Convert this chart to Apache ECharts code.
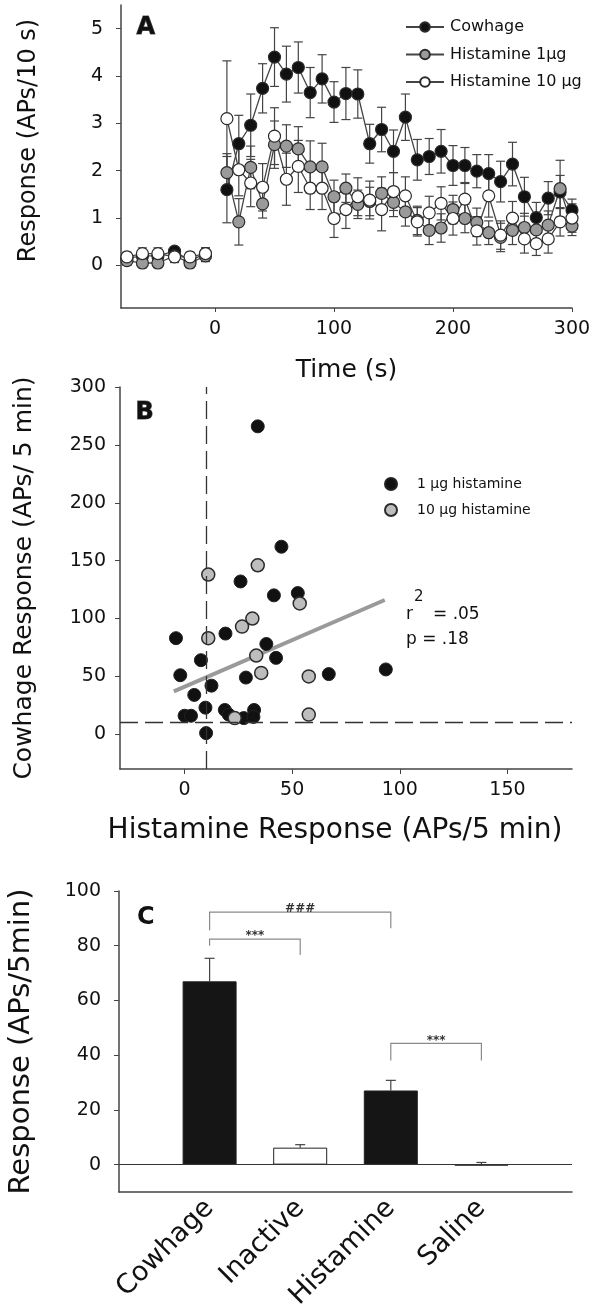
<!DOCTYPE html>
<html>
<head>
<meta charset="utf-8">
<script src="https://cdn.jsdelivr.net/npm/echarts@6/dist/echarts.min.js"></script>
<style>
  html, body { margin: 0; padding: 0; background: #fff; }
  #chart { width: 592px; height: 1311px; }
</style>
</head>
<body>
<div id="chart"></div>
<script>
// ---- panel A : time course (APs / 10 s) ----
// baseline bins sit left of the axis break, so their x is the plotted position
const preTimes = [-74, -61, -48, -34, -21, -8];
const postTimes = [10, 20, 30, 40, 50, 60, 70, 80, 90, 100, 110, 120, 130, 140, 150,
  160, 170, 180, 190, 200, 210, 220, 230, 240, 250, 260, 270, 280, 290, 300];

const cowhagePre = [0.15, 0.2, 0.2, 0.3, 0.1, 0.25];
const cowhagePreErr = [0.1, 0.1, 0.1, 0.08, 0.1, 0.12];
const cowhagePost = [1.60, 2.57, 2.96, 3.74, 4.40, 4.04, 4.18, 3.65, 3.94, 3.45, 3.63, 3.62, 2.57, 2.87, 2.41,
  3.13, 2.23, 2.30, 2.41, 2.11, 2.11, 1.99, 1.94, 1.77, 2.14, 1.45, 1.01, 1.42, 1.55, 1.17];
const cowhageErr = [0.7, 0.6, 0.66, 0.52, 0.62, 0.59, 0.54, 0.53, 0.51, 0.43, 0.55, 0.51, 0.41, 0.47, 0.45,
  0.49, 0.43, 0.38, 0.46, 0.42, 0.38, 0.35, 0.4, 0.43, 0.46, 0.41, 0.32, 0.35, 0.35, 0.23];

const hist1Pre = [0.1, 0.05, 0.05, 0.2, 0.05, 0.2];
const hist1PreErr = [0.1, 0.1, 0.1, 0.1, 0.1, 0.12];
const hist1Post = [1.96, 0.92, 2.07, 1.30, 2.55, 2.52, 2.46, 2.08, 2.08, 1.45, 1.63, 1.29, 1.35, 1.52, 1.33,
  1.13, 0.95, 0.74, 0.79, 1.18, 0.99, 0.91, 0.69, 0.59, 0.74, 0.80, 0.75, 0.85, 1.62, 0.83];
const hist1Err = [0.4, 0.49, 0.45, 0.3, 0.5, 0.45, 0.47, 0.55, 0.5, 0.35, 0.3, 0.3, 0.3, 0.35, 0.3,
  0.3, 0.3, 0.3, 0.3, 0.3, 0.3, 0.3, 0.25, 0.3, 0.3, 0.3, 0.25, 0.3, 0.6, 0.2];

const hist10Pre = [0.18, 0.25, 0.25, 0.18, 0.18, 0.25];
const hist10PreErr = [0.1, 0.12, 0.12, 0.12, 0.1, 0.12];
const hist10Post = [3.10, 2.02, 1.74, 1.65, 2.73, 1.82, 2.09, 1.63, 1.63, 0.99, 1.18, 1.45, 1.38, 1.18, 1.56,
  1.47, 0.92, 1.11, 1.31, 0.99, 1.40, 0.73, 1.47, 0.64, 1.00, 0.56, 0.46, 0.56, 0.92, 1.00];
const hist10Err = [1.22, 0.55, 0.5, 0.5, 0.6, 0.55, 0.55, 0.45, 0.45, 0.4, 0.4, 0.4, 0.4, 0.45, 0.4,
  0.4, 0.3, 0.35, 0.35, 0.35, 0.35, 0.3, 0.45, 0.3, 0.35, 0.3, 0.25, 0.3, 0.3, 0.3];

const ticksA_x = [0, 100, 200, 300];
const ticksA_y = [0, 1, 2, 3, 4, 5];

// ---- panel B : cowhage vs histamine response ----
const oneUgHist = [[34, 266], [45, 162], [26, 132], [41.5, 120], [52.6, 122], [-4, 83], [19, 87], [38, 78],
  [42.5, 66], [7.6, 64], [-2, 51], [28.5, 49], [67, 52], [12.5, 42], [4.5, 34], [9.7, 23], [0, 16],
  [3, 16], [18.7, 21], [20.5, 17], [27.5, 14], [32.3, 21], [32, 15], [10, 1], [93.5, 56]];
const tenUgHist = [[11, 138], [34, 146], [53.5, 113], [31.5, 100], [26.7, 93], [11, 83], [33.3, 68],
  [35.6, 53], [57.7, 50], [57.7, 17], [23.3, 14]];
const regLine = [[-5, 37], [93, 116]];
const cutoff = 10;
const ticksB_x = [0, 50, 100, 150];
const ticksB_y = [0, 50, 100, 150, 200, 250, 300];

// ---- panel C : mean responses ----
const catsC = ['', 'Cowhage', 'Inactive', 'Histamine', 'Saline', ''];
const barValues = ['-', 67, 6.2, 27.1, -0.3, '-'];
const barErr = [0, 8.4, 1.1, 3.7, 1.1, 0];
const barFill = ['#fff', '#151515', '#fff', '#151515', '#fff', '#fff'];
const ticksC_y = [0, 20, 40, 60, 80, 100];
// [from, to, top, leftLegEnd, rightLegEnd]
const brackets = [[1, 3, 92.3, 85.7, 86.4], [1, 2, 82.4, 80, 76.6], [3, 4, 44.3, 38.1, 38.1]];
const bracketText = ['###', '***', '***'];

const FONT = 'DejaVu Sans';
const INK = '#111';
const AXIS = '#444';

const pairs = (xs, ys, es) => xs.map((x, i) => es ? [x, ys[i], es[i]] : [x, ys[i]]);

function errBar(capHalf, both) {
  return function (params, api) {
    const x = api.value(0), y = api.value(1), e = api.value(2);
    if (isNaN(y)) return;
    const top = api.coord([x, y + e]);
    const bot = api.coord([x, both ? y - e : y]);
    const st = { stroke: '#444', lineWidth: 1.2 };
    const kids = [
      { type: 'line', shape: { x1: top[0], y1: top[1], x2: bot[0], y2: bot[1] }, style: st },
      { type: 'line', shape: { x1: top[0] - capHalf, y1: top[1], x2: top[0] + capHalf, y2: top[1] }, style: st }
    ];
    if (both) kids.push({ type: 'line', shape: { x1: bot[0] - capHalf, y1: bot[1], x2: bot[0] + capHalf, y2: bot[1] }, style: st });
    return { type: 'group', children: kids };
  };
}

function axisStyle(extra) {
  return Object.assign({
    axisLine: { show: true, onZero: false, lineStyle: { color: AXIS, width: 1.5 } },
    axisTick: { show: true, length: 5, lineStyle: { color: AXIS } },
    splitLine: { show: false },
    nameLocation: 'middle',
    nameTextStyle: { fontFamily: FONT, fontSize: 25, color: INK }
  }, extra);
}

function tickLabels(values, margin) {
  return { customValues: values, fontFamily: FONT, fontSize: 19, color: INK, margin: margin };
}

const chart = echarts.init(document.getElementById('chart'));

const lineSeries = (name, xs, ys, fill) => ({
  type: 'line', name: name, xAxisIndex: 0, yAxisIndex: 0,
  data: pairs(xs, ys), symbol: 'circle', symbolSize: 12, z: 3,
  lineStyle: { color: '#444', width: 1.3 },
  itemStyle: { color: fill, borderColor: '#2a2a2a', borderWidth: 1.2 }
});

const errSeries = (xs, ys, es) => ({
  type: 'custom', xAxisIndex: 0, yAxisIndex: 0, z: 2, silent: true,
  renderItem: errBar(4.5, true), encode: { x: 0, y: 1 }, data: pairs(xs, ys, es)
});

chart.setOption({
  animation: false,
  backgroundColor: '#fff',
  grid: [
    { left: 121, top: 5, right: 20, height: 303, outerBoundsMode: 'none' },
    { left: 120, top: 387, right: 20, height: 382, outerBoundsMode: 'none' },
    { left: 119, top: 891, right: 20, height: 301, outerBoundsMode: 'none' }
  ],
  legend: [
    {
      data: ['Cowhage', 'Histamine 1μg', 'Histamine 10 μg'],
      orient: 'vertical', left: 400, top: 14, itemWidth: 38, itemHeight: 12, itemGap: 11.5,
      textStyle: { fontFamily: FONT, fontSize: 16, color: INK, padding: [0, 0, 0, 1] }
    },
    {
      data: ['1 μg histamine', '10 μg histamine'],
      orient: 'vertical', left: 379, top: 472, itemWidth: 12, itemHeight: 12, itemGap: 12, icon: 'circle',
      textStyle: { fontFamily: FONT, fontSize: 14, color: INK, padding: [0, 0, 0, 15] }
    }
  ],
  xAxis: [
    axisStyle({
      gridIndex: 0, type: 'value', min: -79, max: 300, name: 'Time (s)', nameGap: 50,
      axisTick: { show: true, length: 4, customValues: ticksA_x, lineStyle: { color: AXIS } },
      axisLabel: tickLabels(ticksA_x, 12)
    }),
    axisStyle({
      gridIndex: 1, type: 'value', min: -30, max: 180, name: 'Histamine Response (APs/5 min)', nameGap: 48,
      nameTextStyle: { fontFamily: FONT, fontSize: 28, color: INK, padding: [0, 22, 0, 0] },
      axisTick: { show: true, length: 5, customValues: ticksB_x, lineStyle: { color: AXIS } },
      axisLabel: tickLabels(ticksB_x, 12)
    }),
    axisStyle({
      gridIndex: 2, type: 'category', data: catsC, boundaryGap: false,
      axisTick: { show: false },
      axisLabel: { interval: 0, rotate: 45, fontFamily: FONT, fontSize: 27, color: INK, margin: 12 }
    })
  ],
  yAxis: [
    axisStyle({
      gridIndex: 0, type: 'value', min: -0.9, max: 5.5, name: 'Response (APs/10 s)', nameGap: 80,
      nameTextStyle: { fontFamily: FONT, fontSize: 24, color: INK, padding: [0, 0, 0, 32] },
      axisTick: { show: true, length: 5, customValues: ticksA_y, lineStyle: { color: AXIS } },
      axisLabel: tickLabels(ticksA_y, 18)
    }),
    axisStyle({
      gridIndex: 1, type: 'value', min: -30, max: 300, name: 'Cowhage Response (APs/ 5 min)', nameGap: 83,
      axisTick: { show: true, length: 5, customValues: ticksB_y, lineStyle: { color: AXIS } },
      axisLabel: tickLabels(ticksB_y, 14)
    }),
    axisStyle({
      gridIndex: 2, type: 'value', min: -10, max: 100, name: 'Response (APs/5min)', nameGap: 83,
      nameTextStyle: { fontFamily: FONT, fontSize: 29, color: INK },
      axisTick: { show: true, length: 5, customValues: ticksC_y, lineStyle: { color: AXIS } },
      axisLabel: tickLabels(ticksC_y, 18)
    })
  ],
  series: [
    // panel A
    errSeries(preTimes, cowhagePre, cowhagePreErr),
    errSeries(postTimes, cowhagePost, cowhageErr),
    errSeries(preTimes, hist1Pre, hist1PreErr),
    errSeries(postTimes, hist1Post, hist1Err),
    errSeries(preTimes, hist10Pre, hist10PreErr),
    errSeries(postTimes, hist10Post, hist10Err),
    lineSeries('Cowhage', preTimes, cowhagePre, '#111'),
    lineSeries('Cowhage', postTimes, cowhagePost, '#111'),
    lineSeries('Histamine 1μg', preTimes, hist1Pre, '#9a9a9a'),
    lineSeries('Histamine 1μg', postTimes, hist1Post, '#9a9a9a'),
    lineSeries('Histamine 10 μg', preTimes, hist10Pre, '#fff'),
    lineSeries('Histamine 10 μg', postTimes, hist10Post, '#fff'),

    // panel B
    {
      type: 'line', xAxisIndex: 1, yAxisIndex: 1, data: regLine, symbol: 'none', z: 2, silent: true,
      lineStyle: { color: '#9a9a9a', width: 4 },
      markLine: {
        silent: true, symbol: 'none', label: { show: false },
        lineStyle: { color: '#333', width: 1.3, type: [18, 7] },
        data: [{ xAxis: cutoff }, { yAxis: cutoff }]
      }
    },
    {
      type: 'scatter', name: '1 μg histamine', xAxisIndex: 1, yAxisIndex: 1, data: oneUgHist, z: 3,
      symbolSize: 13, itemStyle: { color: '#111', borderColor: '#222', borderWidth: 1, opacity: 1 }
    },
    {
      type: 'scatter', name: '10 μg histamine', xAxisIndex: 1, yAxisIndex: 1, data: tenUgHist, z: 4,
      symbolSize: 13, itemStyle: { color: '#bdbdbd', borderColor: '#2a2a2a', borderWidth: 1.5, opacity: 1 }
    },

    // panel C
    {
      type: 'bar', xAxisIndex: 2, yAxisIndex: 2, barWidth: 54, z: 2,
      data: barValues.map((v, i) => ({
        value: v,
        itemStyle: { color: barFill[i], borderColor: '#222', borderWidth: 1 }
      })),
      markLine: {
        silent: true, symbol: 'none', label: { show: false },
        lineStyle: { color: '#333', width: 1.2, type: 'solid' },
        data: [{ yAxis: 0 }]
      }
    },
    {
      type: 'custom', xAxisIndex: 2, yAxisIndex: 2, z: 1, silent: true,
      renderItem: errBar(5, false), encode: { x: 0, y: 1 },
      data: barValues.map((v, i) => [i, v === '-' ? NaN : v, barErr[i]])
    },
    {
      type: 'custom', xAxisIndex: 2, yAxisIndex: 2, z: 3, silent: true,
      encode: { x: 0, y: 2 }, data: brackets,
      renderItem: function (params, api) {
        const a = api.coord([api.value(0), api.value(3)]);
        const b = api.coord([api.value(0), api.value(2)]);
        const c = api.coord([api.value(1), api.value(2)]);
        const d = api.coord([api.value(1), api.value(4)]);
        return {
          type: 'group', children: [
            { type: 'polyline', shape: { points: [a, b, c, d] }, style: { stroke: '#8a8a8a', lineWidth: 1.2, fill: null } },
            {
              type: 'text', x: (b[0] + c[0]) / 2, y: b[1] + 3,
              style: { text: bracketText[params.dataIndex], fill: '#333', font: 'bold 12px ' + FONT, align: 'center', verticalAlign: 'bottom' }
            }
          ]
        };
      }
    }
  ],
  graphic: [
    { type: 'text', left: 136, top: 15, style: { text: 'A', font: 'bold 24px ' + FONT, fill: INK } },
    { type: 'text', left: 135, top: 400, style: { text: 'B', font: 'bold 24px ' + FONT, fill: INK } },
    { type: 'text', left: 137, top: 906, style: { text: 'C', font: 'bold 24px ' + FONT, fill: INK } },
    { type: 'text', left: 406, top: 606, style: { text: 'r', font: '17px ' + FONT, fill: INK } },
    { type: 'text', left: 414, top: 590, style: { text: '2', font: '15px ' + FONT, fill: INK } },
    { type: 'text', left: 433, top: 606, style: { text: '= .05', font: '17px ' + FONT, fill: INK } },
    { type: 'text', left: 406, top: 631, style: { text: 'p = .18', font: '17px ' + FONT, fill: INK } }
  ]
});

// axis break marks on panel A's time axis
const brk = chart.convertToPixel({ gridIndex: 0 }, [-4, -0.9]);
chart.setOption({
  graphic: [
    { type: 'line', shape: { x1: brk[0] - 17, y1: brk[1] + 11, x2: brk[0] + 7, y2: brk[1] - 14 }, style: { stroke: '#666', lineWidth: 1 } },
    { type: 'line', shape: { x1: brk[0] - 11, y1: brk[1] + 11, x2: brk[0] + 13, y2: brk[1] - 14 }, style: { stroke: '#666', lineWidth: 1 } }
  ]
});
</script>
</body>
</html>
